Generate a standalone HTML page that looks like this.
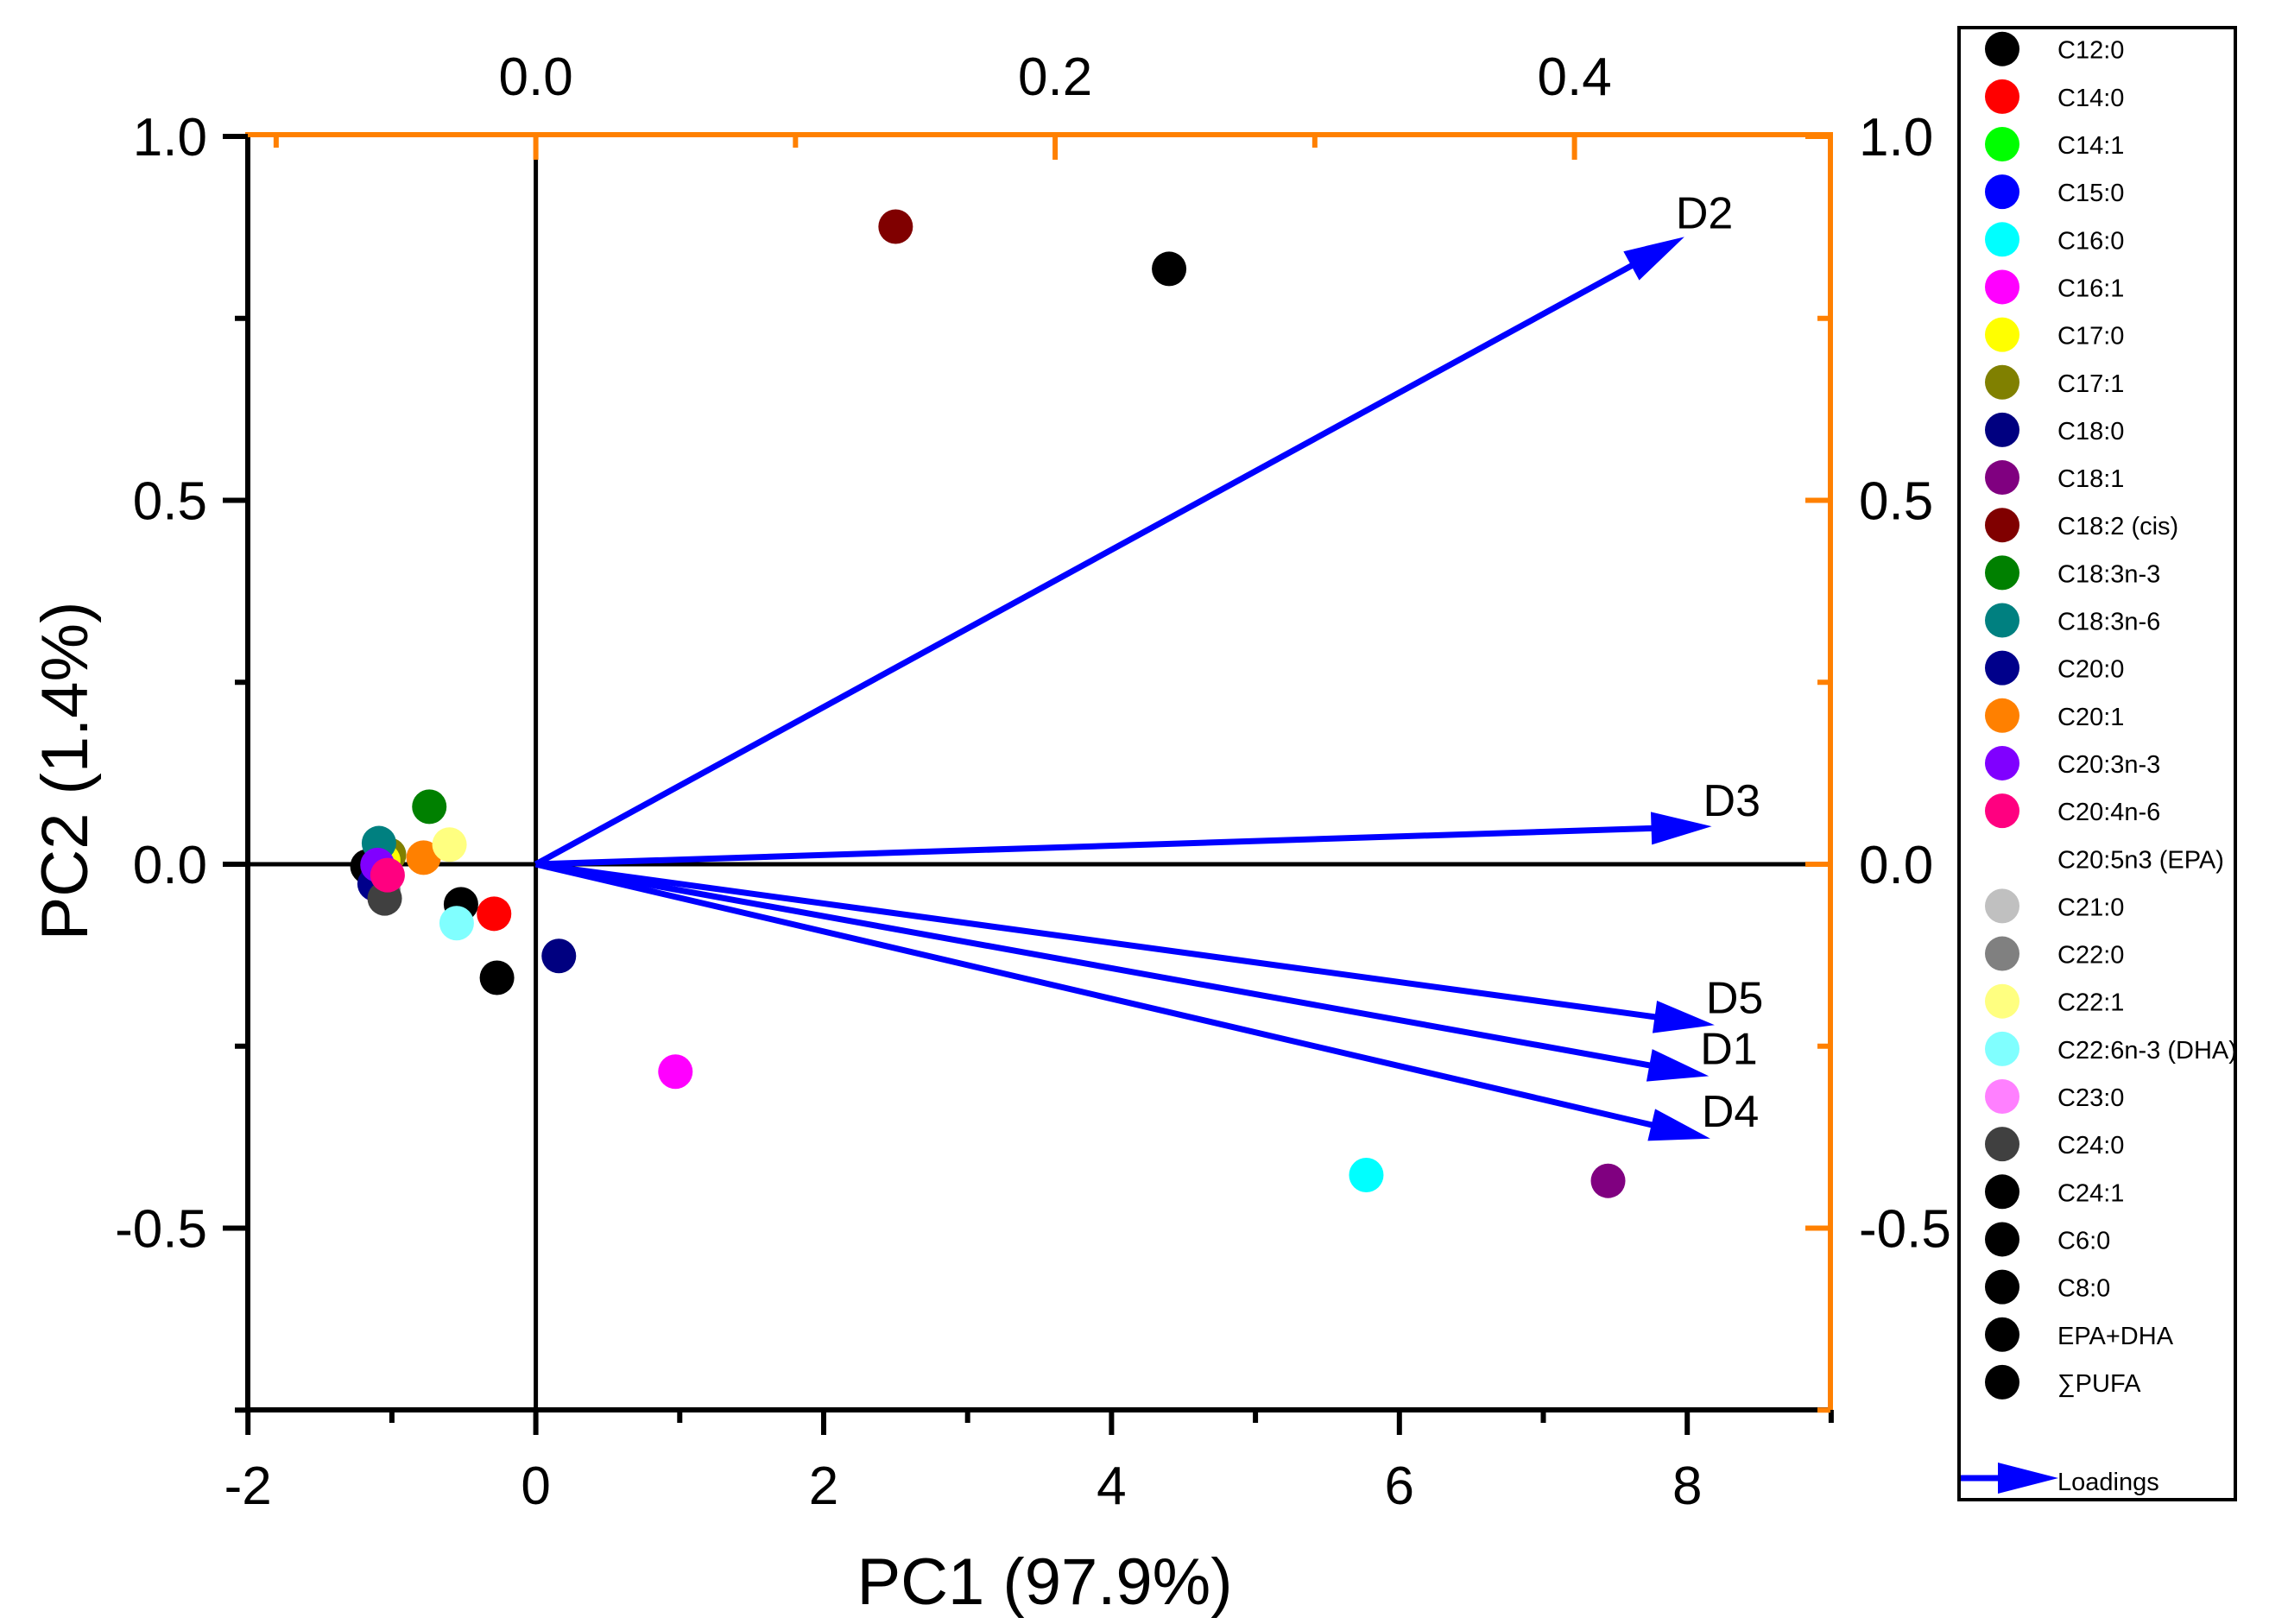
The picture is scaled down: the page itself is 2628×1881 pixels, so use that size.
<!DOCTYPE html>
<html><head><meta charset="utf-8"><style>
html,body{margin:0;padding:0;background:#fff;}
svg{display:block;font-family:"Liberation Sans",Arial,sans-serif;}
</style></head><body>
<svg id="chart" width="2628" height="1881" viewBox="0 0 2628 1881" xmlns="http://www.w3.org/2000/svg"></svg>
<script>
const names=["C12:0","C14:0","C14:1","C15:0","C16:0","C16:1","C17:0","C17:1","C18:0","C18:1","C18:2 (cis)","C18:3n-3","C18:3n-6","C20:0","C20:1","C20:3n-3","C20:4n-6","C20:5n3 (EPA)","C21:0","C22:0","C22:1","C22:6n-3 (DHA)","C23:0","C24:0","C24:1","C6:0","C8:0","EPA+DHA","∑PUFA"];
const colors=["#000000","#ff0000","#00ff00","#0000ff","#00ffff","#ff00ff","#ffff00","#808000","#000080","#800080","#800000","#008000","#008080","#00008b","#ff8000","#8000ff","#ff0080","#ffffff","#c0c0c0","#808080","#ffff80","#80ffff","#ff80ff","#404040","#000000","#000000","#000000","#000000","#000000"];
const pc1=[-1.17,-0.29,-1.08,-1.10,5.77,0.97,-1.06,-1.02,0.16,7.45,2.50,-0.74,-1.09,-1.12,-0.78,-1.10,-1.03,-1.10,-1.07,-1.06,-0.60,-0.55,-1.10,-1.05,-0.52,-0.27,-1.16,-1.15,4.40];
const pc2=[-0.003,-0.068,-0.010,-0.020,-0.427,-0.285,0.005,0.013,-0.126,-0.435,0.876,0.079,0.029,-0.027,0.009,-0.001,-0.015,-0.010,-0.030,-0.035,0.027,-0.081,-0.030,-0.047,-0.055,-0.156,-0.005,-0.004,0.818];
const loadNames=["D2","D3","D5","D1","D4"];
const loadX=[7.98,8.17,8.19,8.15,8.16];
const loadY=[0.862,0.052,-0.221,-0.291,-0.377];
const xTicks=[-2,0,2,4,6,8];
const yTicks=[-0.5,0.0,0.5,1.0];
const topTicks=[0.0,0.2,0.4];
const drawOrder=[26,27,17,0,2,3,18,19,22,13,23,7,6,12,15,16,24,25,1,21,14,20,11,8,5,4,9,10,28];

const svg=document.getElementById('chart');
const NS='http://www.w3.org/2000/svg';
const X0=620.6,XU=166.7,Y0=1001,YU=843;
const L=287,R=2120,T=156,B=1633;
const sx=v=>X0+v*XU, sy=v=>Y0-v*YU;
const tx=v=>X0+v*(601.5/0.2);
function mk(tag,attrs,parent){const e=document.createElementNS(NS,tag);for(const k in attrs)e.setAttribute(k,attrs[k]);(parent||svg).appendChild(e);return e;}
function txt(s,attrs,name){const e=mk('text',attrs);e.textContent=s;return e;}

let e=mk('line',{x1:L,y1:sy(0),x2:2103,y2:sy(0),stroke:'#000','stroke-width':5});

e=mk('line',{x1:sx(0),y1:185,x2:sx(0),y2:B,stroke:'#000','stroke-width':5});


e=mk('line',{x1:L,y1:B,x2:R,y2:B,stroke:'#000','stroke-width':6});

e=mk('line',{x1:L,y1:T,x2:L,y2:B+3,stroke:'#000','stroke-width':6});

e=mk('line',{x1:L-3,y1:T,x2:R+3,y2:T,stroke:'#ff8000','stroke-width':6});

e=mk('line',{x1:R,y1:T,x2:R,y2:B+3,stroke:'#ff8000','stroke-width':6});


for(let v=-2;v<=9;v++){const maj=v%2===0;
 e=mk('line',{x1:sx(v),y1:B,x2:sx(v),y2:B+(maj?29:15),stroke:'#000','stroke-width':6});
 }
xTicks.forEach(v=>txt(String(v),{x:sx(v),y:1742,'font-size':62,'text-anchor':'middle'},'x-tick-label'));
for(let i=-3;i<=4;i++){const v=i*0.25;const maj=i%2===0;
 e=mk('line',{x1:L,y1:sy(v),x2:L-(maj?29:15),y2:sy(v),stroke:'#000','stroke-width':6});
 
 e=mk('line',{x1:R,y1:sy(v),x2:R-(maj?29:15),y2:sy(v),stroke:'#ff8000','stroke-width':6});
 }
yTicks.forEach(v=>{const s=v.toFixed(1);
 txt(s,{x:240,y:sy(v)+22,'font-size':62,'text-anchor':'end'},'y-tick-label');
 txt(s,{x:2153,y:sy(v)+22,'font-size':62},'right-y-tick-label');});
for(let i=-1;i<=5;i++){const v=i*0.1;const p=tx(v);if(p<L||p>R)continue;const maj=i%2===0;
 e=mk('line',{x1:p,y1:T,x2:p,y2:T+(maj?29:15),stroke:'#ff8000','stroke-width':6});
 }
topTicks.forEach(v=>txt(v.toFixed(1),{x:tx(v),y:110,'font-size':62,'text-anchor':'middle'},'top-tick-label'));

txt('PC1 (97.9%)',{x:1210,y:1858,'font-size':76,'text-anchor':'middle'},'x-axis-title');
txt('PC2 (1.4%)',{x:0,y:0,'font-size':76,'text-anchor':'middle',transform:'translate(101,893) rotate(-90)'},'y-axis-title');

function arrow(x1,y1,x2,y2,name){const g=mk('g',{});
 
 const dx=x2-x1,dy=y2-y1,len=Math.hypot(dx,dy),ux=dx/len,uy=dy/len,hl=70,hw=19;
 const bx=x2-ux*hl,by=y2-uy*hl;
 mk('line',{x1:x1,y1:y1,x2:bx+ux*2,y2:by+uy*2,stroke:'#0000ff','stroke-width':7},g);
 mk('polygon',{points:`${x2},${y2} ${bx-uy*hw},${by+ux*hw} ${bx+uy*hw},${by-ux*hw}`,fill:'#0000ff'},g);}
loadNames.forEach((n,i)=>{const x=sx(loadX[i]),y=sy(loadY[i]);
 arrow(sx(0),sy(0),x,y,'loading-arrow-'+n.toLowerCase());
 const ly=i===0?y-10:(i===1?y-12:y-14);
 txt(n,{x:x-10,y:ly,'font-size':52},'loading-label-'+n.toLowerCase());});

drawOrder.forEach(i=>{const n=names[i];const c=mk('circle',{cx:sx(pc1[i]),cy:sy(pc2[i]),r:20,fill:colors[i]});
 
 });

const lg=mk('g',{});

mk('rect',{x:2269,y:32,width:320,height:1705,fill:'#fff',stroke:'#000','stroke-width':4},lg);
names.forEach((n,i)=>{const y=56.7+i*55.15;
 const c=mk('circle',{cx:2319,cy:y,r:20,fill:colors[i]},lg);
 
 const t=mk('text',{x:2383,y:y+11,'font-size':29},lg);t.textContent=n;
 });
const la=mk('g',{},lg);

mk('line',{x1:2271,y1:1712,x2:2316,y2:1712,stroke:'#0000ff','stroke-width':7},la);
mk('polygon',{points:'2384,1712 2314,1694 2314,1730',fill:'#0000ff'},la);
const lt=mk('text',{x:2383,y:1726,'font-size':29},lg);lt.textContent='Loadings';

</script>
</body></html>
